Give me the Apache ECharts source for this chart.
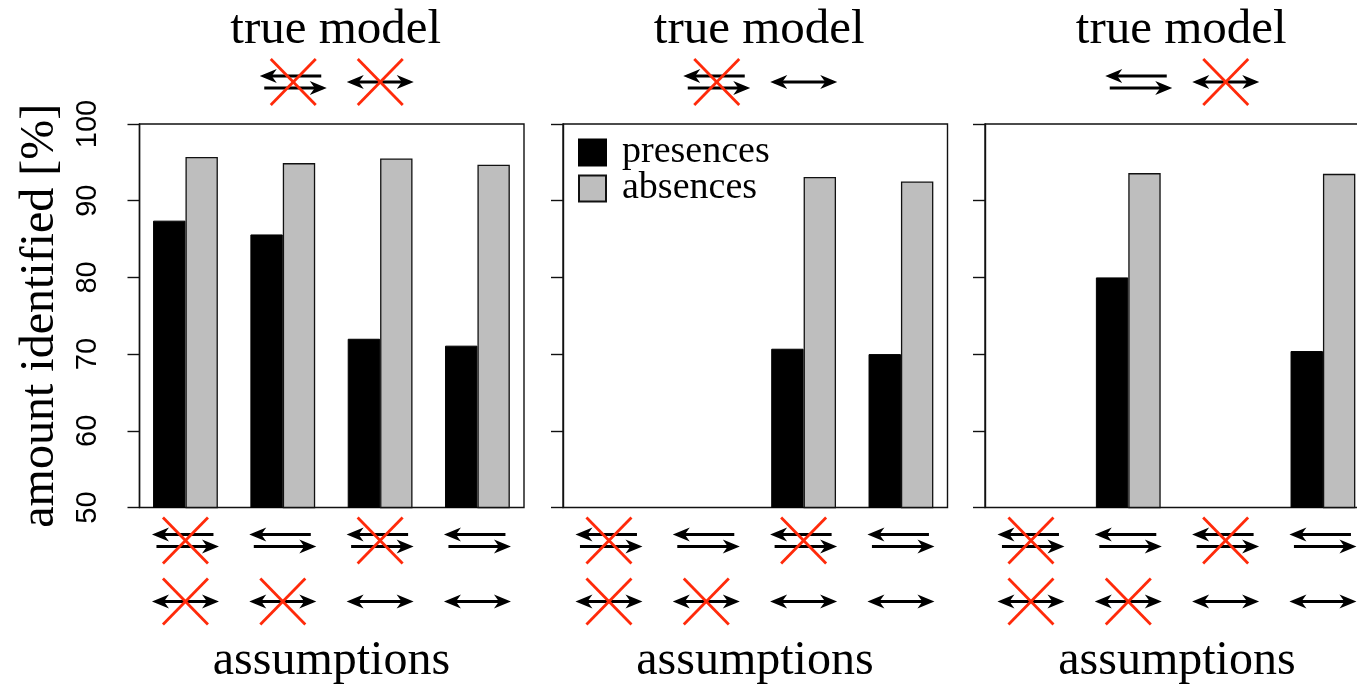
<!DOCTYPE html>
<html>
<head>
<meta charset="UTF-8">
<title>amount identified</title>
<script src="https://cdn.jsdelivr.net/npm/echarts@6/dist/echarts.min.js"></script>
<style>
  body { margin: 0; background: #fff; }
  #chart { width: 1357px; height: 684px; }
</style>
</head>
<body>
<div id="chart"></div>
<script>
// assumption columns (same for every panel)
const categories = ['a1', 'a2', 'a3', 'a4']
// row 1: paired arrows crossed out?  row 2: double arrow crossed out?
const pairCrossed = [true, false, true, false]
const doubleCrossed = [true, true, false, false]

// true model per panel: [pair crossed, double crossed]
const trueModels = [[true, true], [true, false], [false, true]]

// values (null = no bar)
const presences1 = [87.4, 85.6, 72.0, 71.1]
const absences1 = [95.7, 94.9, 95.5, 94.7]
const presences2 = [null, null, 70.7, 70.0]
const absences2 = [null, null, 93.1, 92.5]
const presences3 = [null, 80.0, null, 70.4]
const absences3 = [null, 93.6, null, 93.5]

const yMin = 50
const yMax = 100
const yStep = 10

const panels = [
  { presences: presences1, absences: absences1 },
  { presences: presences2, absences: absences2 },
  { presences: presences3, absences: absences3 }
]

const SERIF = '"Liberation Serif", "Times New Roman", serif'
const SANS = '"Liberation Sans", Arial, sans-serif'
const CROSS_RED = '#ff2a0a'

/**
 * Arrow icon as svg data url
 */
function arrowIcon(kind, crossed) {
  const W = 72, H = 61, cy = 30.5
  const head = (tx, y, dir) => {
    const b = tx - dir * 17, n = tx - dir * 12
    return `<polygon points="${tx},${y} ${b},${y - 7} ${n},${y} ${b},${y + 7}" fill="#000"/>`
  }
  let body = ''
  if (kind === 'pair') {
    body += `<line x1="7" y1="${cy - 6}" x2="64" y2="${cy - 6}" stroke="#000" stroke-width="3.2"/>`
    body += head(2.5, cy - 6, -1)
    body += `<line x1="7" y1="${cy + 6}" x2="65" y2="${cy + 6}" stroke="#000" stroke-width="3.2"/>`
    body += head(69.5, cy + 6, 1)
  } else {
    body += `<line x1="7" y1="${cy}" x2="65" y2="${cy}" stroke="#000" stroke-width="3"/>`
    body += head(2.5, cy, -1)
    body += head(69.5, cy, 1)
  }
  if (crossed) {
    body += `<line x1="13.5" y1="${cy - 23}" x2="58.5" y2="${cy + 23}" stroke="${CROSS_RED}" stroke-width="2.8"/>`
    body += `<line x1="58.5" y1="${cy - 23}" x2="13.5" y2="${cy + 23}" stroke="${CROSS_RED}" stroke-width="2.8"/>`
  }
  const svg = `<svg xmlns="http://www.w3.org/2000/svg" width="${W}" height="${H}" viewBox="0 0 ${W} ${H}">${body}</svg>`
  return 'data:image/svg+xml;charset=utf-8,' + encodeURIComponent(svg)
}

const ICONS = {
  pair: arrowIcon('pair', false),
  pairX: arrowIcon('pair', true),
  dbl: arrowIcon('double', false),
  dblX: arrowIcon('double', true)
}

const richIcons = {}
Object.keys(ICONS).forEach(k => {
  richIcons[k] = { width: 72, height: 61, lineHeight: 61, fontSize: 2, backgroundColor: { image: ICONS[k] } }
})

// panel geometry (frame box)
const panelLefts = [139.5, 563, 985]
const panelWidth = 384.5
const plotTop = 124
const plotHeight = 383.5
const bandShift = 2.7
const bandWidth = 389.3

const grid = []
const xAxis = []
const yAxis = []
const series = []
const graphic = []

panelLefts.forEach((left, p) => {
  // frame grid with visible y axis
  grid.push({
    left, top: plotTop, width: panelWidth, height: plotHeight,
    outerBoundsMode: 'none', containLabel: false,
    show: true, borderColor: '#111', borderWidth: 1.4, backgroundColor: 'transparent'
  })
  // bar grid, slightly wider so bands line up with bars
  grid.push({
    left: left - bandShift, top: plotTop, width: bandWidth, height: plotHeight,
    outerBoundsMode: 'none', containLabel: false
  })

  const frameIdx = p * 2, barIdx = p * 2 + 1

  xAxis.push({ type: 'value', gridIndex: frameIdx, show: false })
  xAxis.push({
    type: 'category', gridIndex: barIdx, data: categories,
    axisLine: { show: false }, axisTick: { show: false },
    axisLabel: {
      interval: 0, margin: 2.5,
      formatter: (v, i) => `{${pairCrossed[i] ? 'pairX' : 'pair'}| }\n{${doubleCrossed[i] ? 'dblX' : 'dbl'}| }`,
      rich: richIcons
    },
    name: 'assumptions', nameLocation: 'middle', nameGap: 128,
    nameTextStyle: { fontFamily: SERIF, fontSize: 48, color: '#000', lineHeight: 48 }
  })

  yAxis.push({
    type: 'value', gridIndex: frameIdx, min: yMin, max: yMax, interval: yStep,
    axisLine: { show: true, lineStyle: { color: '#111', width: 1.4 } },
    axisTick: { show: true, length: 12, lineStyle: { color: '#111', width: 1.4 } },
    splitLine: { show: false },
    axisLabel: {
      show: p === 0, rotate: 90, margin: 37,
      fontFamily: SANS, fontSize: 29, color: '#000'
    },
    name: p === 0 ? 'amount identified [%]' : '',
    nameLocation: 'middle', nameGap: 75,
    nameTextStyle: { fontFamily: SERIF, fontSize: 48, color: '#000' }
  })
  yAxis.push({ type: 'value', gridIndex: barIdx, min: yMin, max: yMax, show: false })

  series.push({
    name: 'presences', type: 'bar', xAxisIndex: barIdx, yAxisIndex: barIdx,
    data: panels[p].presences, barWidth: 32.4, barGap: '0%',
    itemStyle: { color: '#000', borderColor: '#000', borderWidth: 1 }
  })
  series.push({
    name: 'absences', type: 'bar', xAxisIndex: barIdx, yAxisIndex: barIdx,
    data: panels[p].absences, barWidth: 32.4, barGap: '0%',
    itemStyle: { color: '#bebebe', borderColor: '#111', borderWidth: 1.3 }
  })

  // "true model" heading with its two icons
  const cx = left + panelWidth / 2
  const [pairX, dblX] = trueModels[p]
  graphic.push({
    type: 'text', x: cx + 4, y: 30,
    style: { text: 'true model', font: `49px ${SERIF}`, fill: '#000', textAlign: 'center', textVerticalAlign: 'middle' }
  })
  graphic.push({
    type: 'image',
    style: { image: pairX ? ICONS.pairX : ICONS.pair, x: cx - 38.5 - 36, y: 82 - 30.5, width: 72, height: 61 }
  })
  graphic.push({
    type: 'image',
    style: { image: dblX ? ICONS.dblX : ICONS.dbl, x: cx + 48.5 - 36, y: 82 - 30.5, width: 72, height: 61 }
  })
})

const chart = echarts.init(document.getElementById('chart'))
chart.setOption({
  backgroundColor: '#fff',
  animation: false,
  grid, xAxis, yAxis, series, graphic,
  legend: {
    data: ['presences', 'absences'],
    orient: 'vertical', left: 578, top: 133.5, padding: 0,
    icon: 'rect', itemWidth: 27, itemHeight: 26, itemGap: -2,
    selectedMode: false,
    textStyle: { fontFamily: SERIF, fontSize: 38, color: '#000', lineHeight: 26, padding: [0, 0, 0, 11] }
  }
})
window.addEventListener('resize', () => chart.resize())
</script>
</body>
</html>
